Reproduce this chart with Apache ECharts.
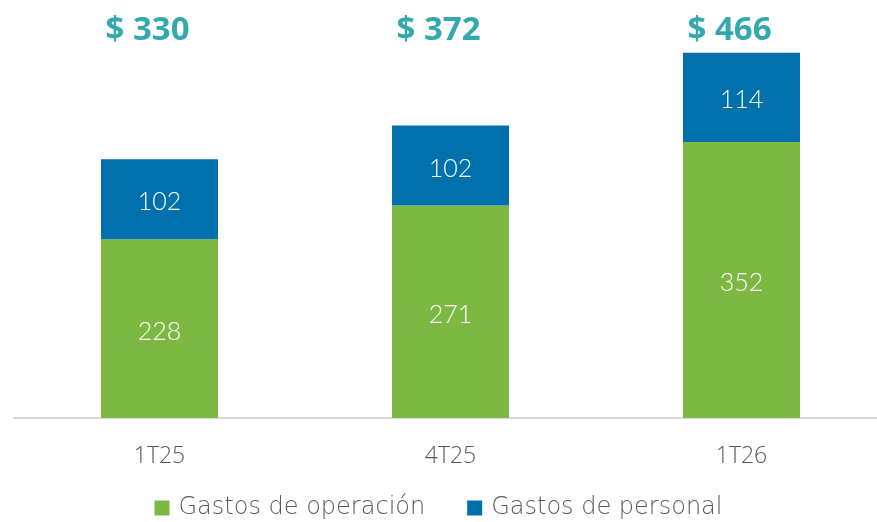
<!DOCTYPE html>
<html>
<head>
<meta charset="utf-8">
<script src="https://cdn.jsdelivr.net/npm/echarts@6/dist/echarts.min.js"></script>
<style>
  html, body { margin: 0; padding: 0; background: #ffffff; }
  #chart { width: 877px; height: 522px; }
</style>
</head>
<body>
<div id="chart"></div>
<script>
// Quarterly expenses, stacked by type
const categories = ['1T25', '4T25', '1T26'];
const gastosOperacion = [228, 271, 352];
const gastosPersonal = [102, 102, 114];
const totals = [330, 372, 466];
// Height on the value axis where the total headline sits
const totalLabelLevel = 494;

const GREEN = '#7cb842';
const BLUE = '#0071ad';
const TEAL = '#00939a';
const GREY = '#595959';

const chart = echarts.init(document.getElementById('chart'));

const segmentLabel = {
  show: true,
  position: 'inside',
  color: '#ffffff',
  fontFamily: 'Lato',
  fontWeight: 300,
  fontSize: 25,
  offset: [0, 3]
};

chart.setOption({
  animation: false,
  backgroundColor: '#ffffff',
  grid: { left: 14, top: 26, width: 873, height: 392, outerBoundsMode: 'none', containLabel: false },
  legend: {
    top: 491,
    left: 'center',
    itemWidth: 15,
    itemHeight: 15,
    itemGap: 42,
    icon: 'rect',
    data: ['Gastos de operación', 'Gastos de personal'],
    textStyle: { fontFamily: 'DejaVu Sans', fontWeight: 200, fontSize: 24, color: GREY, padding: [0, 0, 0, 4] }
  },
  xAxis: {
    type: 'category',
    data: categories,
    axisLine: { lineStyle: { color: '#d9d9d9', width: 2 } },
    axisTick: { show: false },
    axisLabel: { fontFamily: 'Open Sans', fontWeight: 300, fontSize: 23, color: GREY, margin: 27 }
  },
  yAxis: {
    type: 'value',
    min: 0,
    max: 500,
    show: false,
    splitLine: { show: false }
  },
  series: [
    {
      name: 'Gastos de operación',
      type: 'bar',
      stack: 'total',
      barWidth: 117,
      data: gastosOperacion,
      itemStyle: { color: GREEN },
      label: segmentLabel
    },
    {
      name: 'Gastos de personal',
      type: 'bar',
      stack: 'total',
      barWidth: 117,
      data: gastosPersonal,
      itemStyle: { color: BLUE },
      label: segmentLabel
    },
    {
      name: 'Total',
      type: 'scatter',
      symbolSize: 0,
      silent: true,
      data: categories.map(function (c) { return [c, totalLabelLevel]; }),
      label: {
        show: true,
        position: 'inside',
        offset: [-12, 0],
        color: TEAL,
        fontFamily: 'Open Sans',
        fontWeight: 'bold',
        fontSize: 33,
        formatter: function (p) { return '$ ' + totals[p.dataIndex]; }
      }
    }
  ]
});
</script>
</body>
</html>
